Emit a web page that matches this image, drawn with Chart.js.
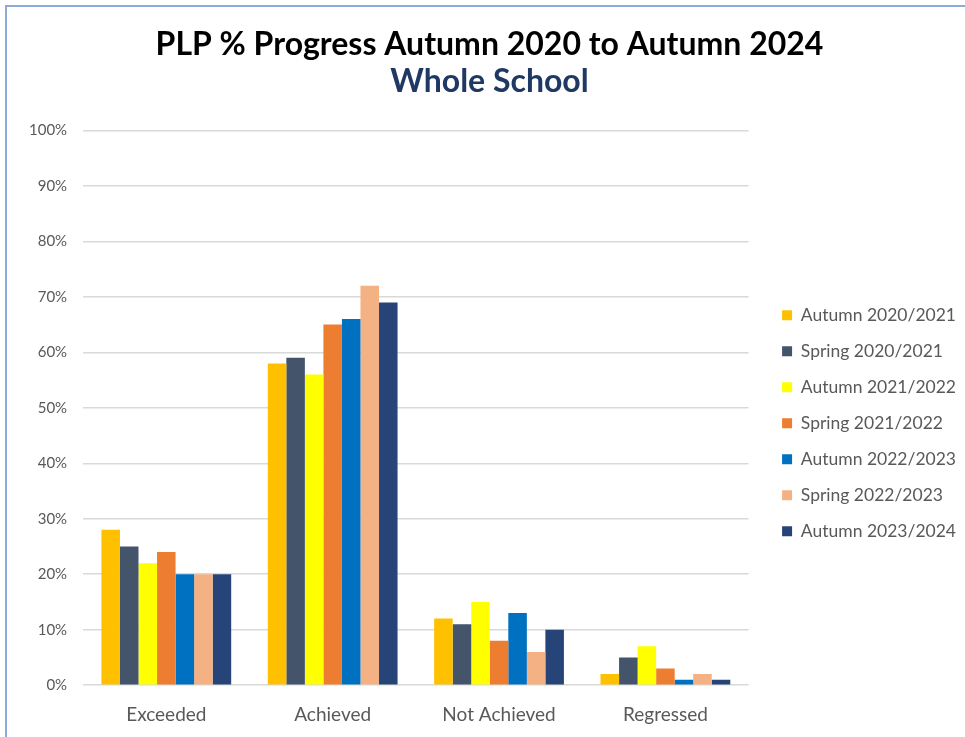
<!DOCTYPE html>
<html>
<head>
<meta charset="utf-8">
<title>PLP % Progress</title>
<script src="https://cdn.jsdelivr.net/npm/chart.js@4/dist/chart.umd.min.js"></script>
<style>
    html, body { margin: 0; padding: 0; background: #ffffff; }
    #wrap { position: relative; width: 965px; height: 737px; }
    #frame {
        position: absolute; left: 5px; top: 5px; right: 0; bottom: 0;
        border-left: 2px solid #8eaadb; border-top: 2px solid #8eaadb;
        pointer-events: none;
    }
</style>
</head>
<body>
<div id="wrap">
    <canvas id="plpChart" width="965" height="737"></canvas>
    <div id="frame"></div>
</div>
<script>
// ─── DATA ───
const categories = ['Exceeded', 'Achieved', 'Not Achieved', 'Regressed'];
const seriesNames = [
    'Autumn 2020/2021',
    'Spring 2020/2021',
    'Autumn 2021/2022',
    'Spring 2021/2022',
    'Autumn 2022/2023',
    'Spring 2022/2023',
    'Autumn 2023/2024'
];
const autumn2021 = [28, 58, 12, 2];
const spring2021 = [25, 59, 11, 5];
const autumn2122 = [22, 56, 15, 7];
const spring2122 = [24, 65, 8, 3];
const autumn2223 = [20, 66, 13, 1];
const spring2223 = [20, 72, 6, 2];
const autumn2324 = [20, 69, 10, 1];
const yTicks = [0, 10, 20, 30, 40, 50, 60, 70, 80, 90, 100];

const seriesValues = [autumn2021, spring2021, autumn2122, spring2122, autumn2223, spring2223, autumn2324];
const seriesColours = ['#ffc000', '#44546a', '#ffff00', '#ed7d31', '#0070c0', '#f4b183', '#264478'];

const FONT = 'Lato, "Open Sans", sans-serif';

// ─── CREATE THE CHART ───
const ctx = document.getElementById('plpChart').getContext('2d');
const plpChart = new Chart(ctx, {
    type: 'bar',
    data: {
        labels: categories,
        datasets: seriesNames.map((name, i) => ({
            label: name,
            data: seriesValues[i],
            backgroundColor: seriesColours[i],
            borderWidth: 0,
            categoryPercentage: 0.78,
            barPercentage: 1.0
        }))
    },
    options: {
        responsive: false,
        animation: false,
        layout: { padding: { left: 13, right: -1, top: 10, bottom: -7 } },
        scales: {
            x: {
                grid: { display: false, drawTicks: false },
                border: { display: false },
                ticks: { color: '#595959', font: { family: FONT, size: 19 }, padding: 18 }
            },
            y: {
                min: 0,
                max: 100,
                afterBuildTicks: axis => { axis.ticks = yTicks.map(v => ({ value: v })); },
                grid: { color: '#d9d9d9', lineWidth: 1.5, drawTicks: false },
                border: { display: false },
                ticks: {
                    color: '#595959',
                    font: { family: FONT, size: 15 },
                    padding: 16,
                    callback: v => v + '%'
                }
            },
            // empty spacer between plot and legend
            gap: {
                position: 'right',
                display: true,
                grid: { display: false, drawTicks: false },
                border: { display: false },
                ticks: { display: false },
                afterFit: s => { s.width = 15; }
            }
        },
        plugins: {
            title: {
                display: true,
                text: 'PLP % Progress Autumn 2020 to Autumn 2024',
                color: '#000000',
                font: { family: FONT, size: 32, weight: 'bold', lineHeight: 1.1 },
                padding: { top: 17, bottom: 2 }
            },
            subtitle: {
                display: true,
                text: 'Whole School',
                color: '#1f3864',
                font: { family: FONT, size: 32, weight: 'bold', lineHeight: 1.1 },
                padding: { top: 0, bottom: 31 }
            },
            legend: {
                position: 'right',
                maxWidth: 300,
                title: { display: true, text: '', padding: { top: 78, bottom: 0 } },
                labels: {
                    color: '#595959',
                    font: { family: FONT, size: 17.5 },
                    boxWidth: 10,
                    boxHeight: 10,
                    padding: 18.5
                }
            },
            tooltip: { enabled: false }
        }
    }
});
</script>
</body>
</html>
